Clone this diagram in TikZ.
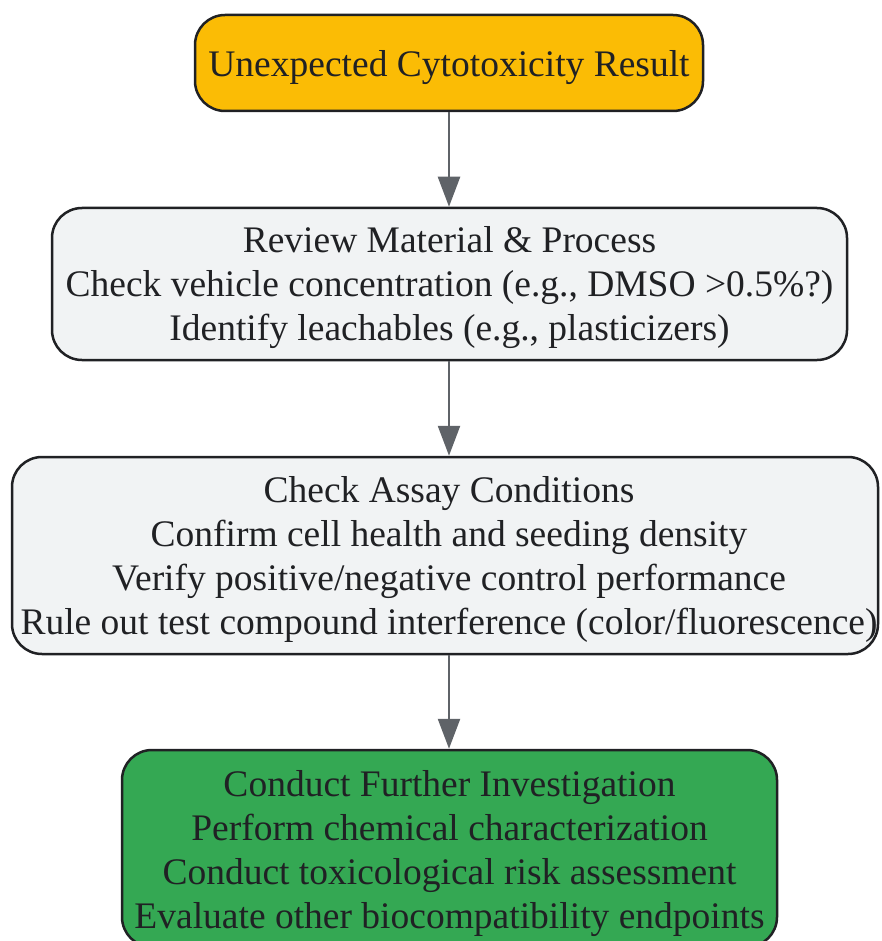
\documentclass[tikz,border=0pt]{standalone}
\usepackage{fontspec}
\setmainfont{Liberation Serif}
\usetikzlibrary{arrows.meta}
\definecolor{yel}{HTML}{FBBC05}
\definecolor{lgrey}{HTML}{F1F3F4}
\definecolor{grn}{HTML}{34A853}
\definecolor{edgec}{HTML}{5F6368}
\definecolor{txt}{HTML}{202124}
\begin{document}
\begin{tikzpicture}[x=1pt,y=1pt,
 box/.style={draw=txt, line width=2.5pt, rounded corners=30pt, inner sep=0pt},
 lbl/.style={align=center, text=txt, inner sep=0pt, font=\fontsize{37.5}{44}\selectfont},
 conn/.style={draw=edgec, line width=2.5pt, -{Triangle[length=30pt,width=22pt]}}]
\useasboundingbox (0,0) rectangle (881,-941);
\clip (0,0) rectangle (881,-941);
\node[box, fill=yel, minimum width=508pt, minimum height=96pt] (a) at (449,-63) {};
\node[box, fill=lgrey, minimum width=795pt, minimum height=152pt] (b) at (449.5,-284) {};
\node[box, fill=lgrey, minimum width=866pt, minimum height=197pt] (c) at (445,-555.5) {};
\node[box, fill=grn, minimum width=655pt, minimum height=197pt] (d) at (449.5,-848.5) {};
\node[lbl] (at) at ([yshift=-5pt]a.center) {Unexpected Cytotoxicity Result};
\node[lbl] (bt) at ([yshift=-4pt]b.center) {Review Material \& Process\\Check vehicle concentration (e.g., DMSO >0.5\%?)\\Identify leachables (e.g., plasticizers)};
\node[lbl] (ct) at ([xshift=4pt,yshift=-4pt]c.center) {Check Assay Conditions\\Confirm cell health and seeding density\\Verify positive/negative control performance\\Rule out test compound interference (color/fluorescence)};
\node[lbl] (dt) at ([yshift=-5pt]d.center) {Conduct Further Investigation\\Perform chemical characterization\\Conduct toxicological risk assessment\\Evaluate other biocompatibility endpoints};
\draw[conn] (a.south) -- (a.south |- b.north);
\draw[conn] (a.south |- b.south) -- (a.south |- c.north);
\draw[conn] (a.south |- c.south) -- (a.south |- d.north);
\end{tikzpicture}
\end{document}
